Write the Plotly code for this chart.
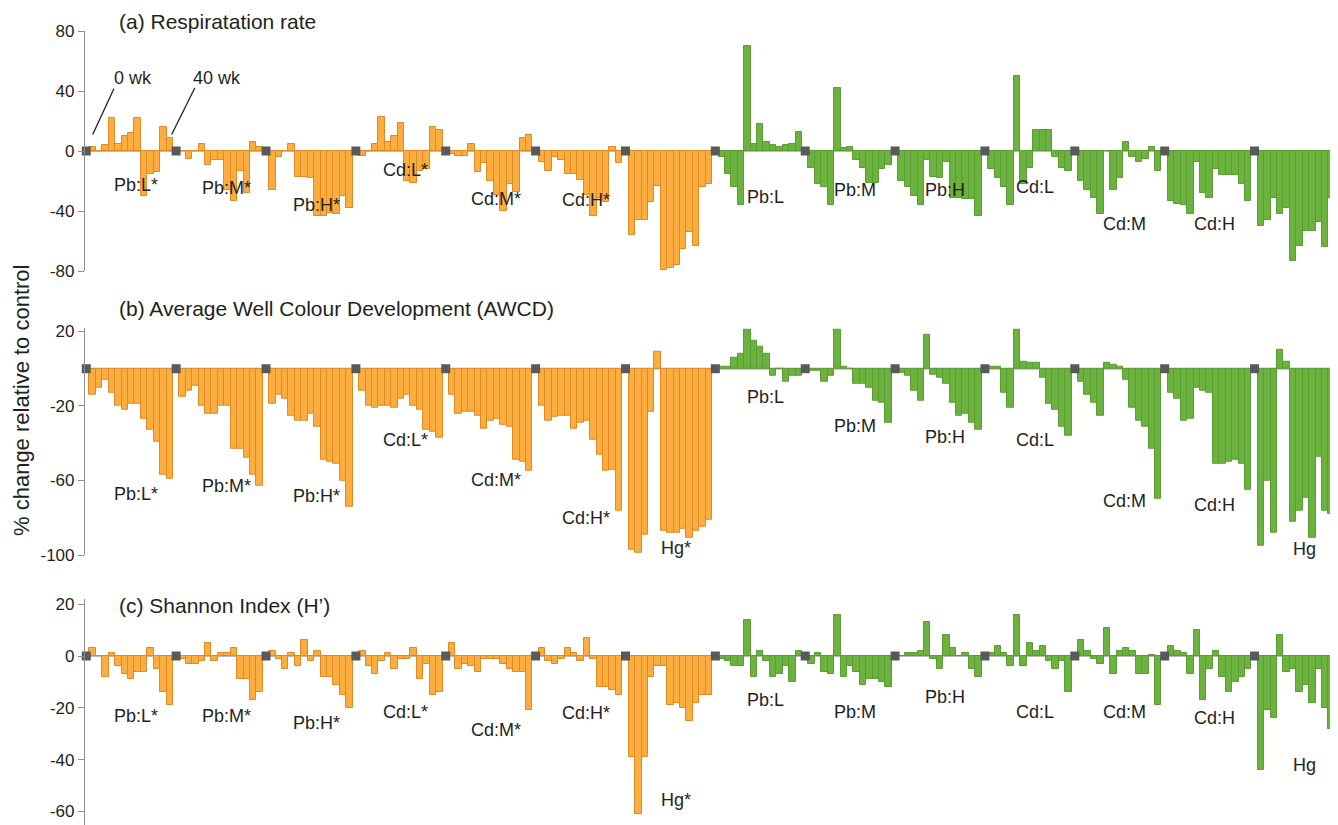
import plotly.graph_objects as go

# ---------------- data ----------------
GROUPS = ["Pb:L*", "Pb:M*", "Pb:H*", "Cd:L*", "Cd:M*", "Cd:H*", "Hg*",
          "Pb:L", "Pb:M", "Pb:H", "Cd:L", "Cd:M", "Cd:H", "Hg"]
N_TIMES = 13          # sampling times 0 wk ... 40 wk

# (a) respiration rate, % change relative to control (one row per group)
RESP = [
    [3, 0, 4, 22, 5, 10, 12, 22, -30, -15, -14, 16, 9],
    [0, -5, 0, 5, -9, -6, -6, -26, -33, -13, -28, 6, 3],
    [-26, -4, 0, 5, -17, -17, -18, -43, -43, -41, -42, -30, -38],
    [-3, 0, 5, 23, 6, 10, 19, -20, -21, -13, -12, 16, 14],
    [-2, -3, -3, 5, -14, -8, -20, -29, -40, -22, -27, 9, 11],
    [-7, -13, -4, -6, -15, -15, -19, -29, -43, -31, -34, 3, -8],
    [-56, -46, -46, -34, -23, -79, -78, -76, -65, -54, -63, -24, -22],
    [-4, -15, -24, -36, 70, 5, 18, 6, 4, 3, 4, 5, 13],
    [-11, -22, -24, -36, 42, 2, 3, -6, -11, -21, -21, -12, -9],
    [-20, -24, -30, -36, -6, -17, -18, -7, -31, -31, -32, -32, -43],
    [-12, -18, -24, -36, 50, -22, -11, 14, 14, 14, -4, -11, -13],
    [-20, -26, -31, -42, 0, -26, -18, 6, -4, -7, -5, 3, -13],
    [-33, -35, -36, -42, -7, -28, -31, -12, -16, -16, -16, -22, -33],
    [-50, -46, -31, -42, -38, -73, -63, -53, -53, -47, -64, -31, -40],
]

# (b) AWCD
AWCD = [
    [-14, -10, -6, -13, -20, -22, -19, -19, -27, -33, -39, -57, -59],
    [-15, -12, -9, -20, -24, -24, -20, -20, -43, -43, -48, -57, -63],
    [-19, -14, -16, -25, -28, -28, -24, -31, -49, -50, -51, -60, -74],
    [-12, -20, -21, -20, -20, -21, -16, -14, -20, -22, -33, -34, -37],
    [-14, -24, -23, -23, -25, -32, -28, -27, -30, -31, -49, -50, -55],
    [-20, -28, -26, -25, -25, -32, -29, -28, -38, -46, -55, -54, -76],
    [-97, -99, -89, -23, 9, -87, -88, -88, -86, -91, -87, -85, -81],
    [1, 1, 6, 8, 21, 15, 12, 8, -4, 0, -7, -4, -4],
    [-1, -1, -7, -4, 21, 1, 0, -8, -8, -10, -17, -18, -29],
    [-2, -4, -12, -17, 18, -3, -5, -8, -18, -25, -24, -29, -33],
    [1, 1, -13, -21, 21, 4, 3, 3, -5, -19, -22, -31, -36],
    [-7, -14, -18, -25, 3, 2, 1, -6, -21, -28, -31, -43, -70],
    [-13, -16, -28, -27, -10, -12, -13, -51, -51, -50, -49, -51, -65],
    [-95, -60, -88, 10, 4, -82, -76, -69, -91, -47, -76, -78, -52],
]

# (c) Shannon index H'
SHANNON = [
    [3, 0, -8, 1, -4, -7, -9, -6, -6, 3, -5, -14, -19],
    [-1, -3, -3, -2, 5, -2, 1, 1, 3, -9, -9, -17, -14],
    [2, -1, -5, 1, -4, 6, -2, 2, -8, -8, -11, -15, -20],
    [2, -4, -7, -2, 1, -5, -1, -1, 3, -9, -3, -15, -14],
    [5, -5, -3, -4, -6, -1, -1, -1, -3, -5, -6, -6, -21],
    [3, -2, -3, -1, 3, 1, -2, 7, -1, -12, -12, -13, -15],
    [-39, -61, -39, -8, -4, -4, -19, -18, -20, -25, -18, -15, -15],
    [-1, -2, -4, -4, 14, -8, 2, -2, -8, -7, -4, -10, 2],
    [-3, 1, -6, -7, 16, -8, -4, -6, -11, -9, -9, -10, -12],
    [0, 1, 1, 2, 13, -1, -5, 8, 3, 0, 1, -5, -8],
    [1, 4, 1, -4, 16, -4, 5, 2, 4, -2, -5, -2, -14],
    [6, 2, -1, -3, 11, -7, 2, 3, 2, -7, -7, 0.5, -19],
    [4, 2, 1, -7, 10, -17, -5, 2, -8, -14, -10, -8, -5],
    [-44, -21, -24, 8, -6, -5, -14, -11, -18, -5, -20, -28, -5],
]

PANEL_TITLES = ["(a) Respiratation rate",
                "(b) Average Well Colour Development (AWCD)",
                "(c) Shannon Index (H\u2019)"]
TICKS_A = [80, 40, 0, -40, -80]
TICKS_B = [20, -20, -60, -100]
TICKS_C = [20, 0, -20, -40, -60]

# label placement (layout only)
LABEL_Y_A = [-23, -25, -36, -13, -32, -33, -88, -31, -26, -26, -24, -49, -49, -82]
LABEL_Y_B = [-67, -63, -68.5, -38, -60, -80, -96, -15, -31, -36.5, -38, -71, -73, -97]
LABEL_Y_C = [-23, -23, -26, -21.5, -28.5, -22, -55.5, -17, -21.5, -16, -21.5, -21.5, -24, -42]

# ---------------- style ----------------
ORANGE = "#FBAE3F"
ORANGE_EDGE = "#DE8A25"
GREEN = "#6BB23F"
GREEN_EDGE = "#5B9C34"
MARK = "#58595B"
AXIS = "#8E8E8E"
TXT = "#231F20"
FONT = "Liberation Sans, Arial, Helvetica, sans-serif"

W, H = 1338, 825
OFF = 8            # page body margin of the html page
SLOTS = 14
X_RANGE = [-0.2, 195.0]


def fx(px):
    return (px - OFF) / W


def fy(px):
    return 1 - (px - OFF) / H


X_DOMAIN = [fx(85), fx(1338)]

PANELS = [
    (RESP, TICKS_A, [-80, 80], 31, 271, LABEL_Y_A, 22),
    (AWCD, TICKS_B, [-100, 22], 327.75, 555, LABEL_Y_B, 308),
    (SHANNON, TICKS_C, [-65.2, 22], 599, 825, LABEL_Y_C, 605),
]

fig = go.Figure()
layout = dict(
    template="none",
    width=W, height=H, autosize=False,
    margin=dict(l=0, r=0, t=0, b=0, pad=0, autoexpand=False),
    paper_bgcolor="white", plot_bgcolor="white",
    showlegend=False, barmode="overlay", bargap=0,
    font=dict(family=FONT, color=TXT),
)
annotations = []
shapes = []

for i, (data, ticks, yr, ptop, pbot, laby, title_y) in enumerate(PANELS):
    sfx = "" if i == 0 else str(i + 1)
    xa, ya = "x" + sfx, "y" + sfx
    xs, ys, cols, edges = [], [], [], []
    for g, vals in enumerate(data):
        for k, v in enumerate(vals):
            xs.append(g * SLOTS + k + 1)
            ys.append(v)
            cols.append(ORANGE if g < 7 else GREEN)
            edges.append(ORANGE_EDGE if g < 7 else GREEN_EDGE)
    fig.add_trace(go.Bar(
        x=xs, y=ys, xaxis=xa, yaxis=ya, width=1.0,
        marker=dict(color=cols, line=dict(color=edges, width=1)),
        hoverinfo="skip"))
    fig.add_trace(go.Scatter(
        x=[g * SLOTS for g in range(len(GROUPS))], y=[0] * len(GROUPS),
        mode="markers", xaxis=xa, yaxis=ya, cliponaxis=False,
        marker=dict(symbol="square", size=9, color=MARK, line=dict(width=0)),
        hoverinfo="skip"))

    layout["xaxis" + sfx] = dict(range=X_RANGE, domain=X_DOMAIN, visible=False,
                                 anchor=ya, fixedrange=True, automargin=False)
    layout["yaxis" + sfx] = dict(
        range=yr, domain=[max(0, fy(pbot)), fy(ptop)], anchor=xa,
        tickvals=ticks, ticktext=[str(t) for t in ticks], automargin=False,
        showline=True, linecolor=AXIS, linewidth=1.2,
        ticks="outside", ticklen=6, tickcolor=AXIS, tickwidth=1.2,
        showgrid=False, zeroline=False,
        tickfont=dict(size=17, color=TXT, family=FONT))

    shapes.append(dict(type="line", xref=xa + " domain", yref=ya,
                       x0=0, x1=1, y0=0, y1=0, layer="below",
                       line=dict(color="#A3A3A3", width=1.6)))
    for g, name in enumerate(GROUPS):
        annotations.append(dict(x=g * SLOTS + 7.8, y=laby[g], xref=xa, yref=ya,
                                text=name, showarrow=False,
                                xanchor="center", yanchor="middle",
                                font=dict(size=18, color=TXT, family=FONT)))
    annotations.append(dict(x=fx(117), y=fy(title_y), xref="paper", yref="paper",
                            text=PANEL_TITLES[i], showarrow=False,
                            xanchor="left", yanchor="middle",
                            font=dict(size=21, color=TXT, family=FONT)))

annotations.append(dict(x=fx(22), y=fy(400), xref="paper", yref="paper",
                        text="% change relative to control", textangle=-90,
                        xanchor="center", yanchor="middle",
                        showarrow=False, font=dict(size=22, color=TXT, family=FONT)))

annotations.append(dict(x=fx(133), y=fy(78), xref="paper", yref="paper",
                        text="0 wk", showarrow=False,
                        xanchor="center", yanchor="middle",
                        font=dict(size=18, color=TXT, family=FONT)))
annotations.append(dict(x=fx(217), y=fy(78), xref="paper", yref="paper",
                        text="40 wk", showarrow=False,
                        xanchor="center", yanchor="middle",
                        font=dict(size=18, color=TXT, family=FONT)))
shapes.append(dict(type="line", xref="x", yref="y", x0=1.0, y0=11, x1=4.3, y1=41.5,
                   line=dict(color=TXT, width=1.3)))
shapes.append(dict(type="line", xref="x", yref="y", x0=13.3, y0=11, x1=16.9, y1=42,
                   line=dict(color=TXT, width=1.3)))

layout["annotations"] = annotations
layout["shapes"] = shapes
fig.update_layout(**layout)
fig.write_html("out.html")
